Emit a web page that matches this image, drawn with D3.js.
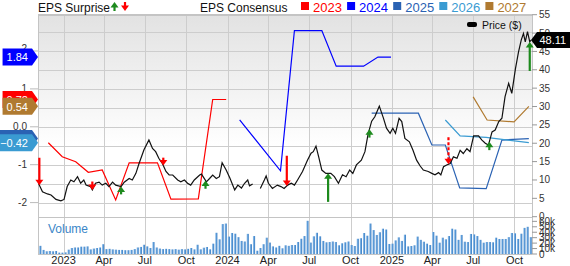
<!DOCTYPE html>
<html>
<head>
<meta charset="utf-8">
<script src="https://cdn.jsdelivr.net/npm/d3@7"></script>
<style>
  body { margin: 0; background: #fff; }
  svg text { font-family: "Liberation Sans", Arial, sans-serif; }
</style>
</head>
<body>
<div id="chart"></div>
<script>
// price ($)
const priceDates = ["2022-11-06","2022-11-15","2022-11-26","2022-12-04","2022-12-15","2022-12-26","2023-01-02","2023-01-09","2023-01-17","2023-01-24",
  "2023-02-01","2023-02-08","2023-02-15","2023-02-20","2023-03-02","2023-03-06","2023-03-13","2023-03-21","2023-03-28","2023-04-05",
  "2023-04-12","2023-04-20","2023-04-27","2023-05-09","2023-05-16","2023-05-27","2023-06-03","2023-06-11","2023-06-18","2023-06-29",
  "2023-07-10","2023-07-18","2023-07-25","2023-08-01","2023-08-09","2023-08-17","2023-08-24","2023-09-01","2023-09-12","2023-09-19",
  "2023-09-27","2023-10-04","2023-10-11","2023-10-19","2023-10-31","2023-11-04","2023-11-15","2023-11-22","2023-11-29","2023-12-07",
  "2023-12-14","2023-12-20","2023-12-29","2024-01-06","2024-01-17","2024-01-24","2024-02-01","2024-02-08","2024-02-15","2024-02-19",
  "2024-02-26","2024-03-05","2024-03-14","2024-03-23","2024-03-27","2024-04-01","2024-04-10","2024-04-21","2024-04-29","2024-05-06",
  "2024-05-14","2024-05-22","2024-05-29","2024-06-05","2024-06-16","2024-06-27","2024-07-05","2024-07-10","2024-07-16","2024-07-22",
  "2024-07-29","2024-08-07","2024-08-18","2024-08-26","2024-09-04","2024-09-13","2024-09-21","2024-09-29","2024-10-06","2024-10-14",
  "2024-10-25","2024-11-02","2024-11-09","2024-11-17","2024-11-24","2024-12-04","2024-12-13","2024-12-20","2024-12-28","2025-01-03",
  "2025-01-09","2025-01-17","2025-01-23","2025-01-30","2025-02-09","2025-02-17","2025-02-25","2025-03-05","2025-03-12","2025-03-23",
  "2025-03-31","2025-04-07","2025-04-15","2025-04-20","2025-04-26","2025-05-03","2025-05-11","2025-05-18","2025-05-26","2025-06-02",
  "2025-06-09","2025-06-17","2025-06-24","2025-07-02","2025-07-13","2025-07-20","2025-07-28","2025-08-04","2025-08-12","2025-08-19",
  "2025-08-27","2025-09-03","2025-09-10","2025-09-18","2025-09-25","2025-10-03","2025-10-10","2025-10-16","2025-10-21","2025-10-25",
  "2025-10-30","2025-11-04","2025-11-07"];
const priceValues = [9.1,6.8,6.2,5.9,4.7,4.3,4.7,8.2,10.0,9.5,
  10.9,9.1,10.0,8.6,8.2,7.3,9.1,9.4,8.6,9.1,
  8.2,9.4,8.6,8.2,9.4,10.4,10.0,11.8,14.5,18.2,
  20.9,18.6,17.7,15.9,14.5,12.3,11.35,11.35,10.0,9.5,
  10.0,9.1,8.6,10.0,11.35,11.6,9.5,10.4,11.35,10.4,
  10.9,14.7,12.7,10.6,7.3,8.6,7.8,9.1,10.0,8.4,
  8.9,null,7.7,10.0,11.1,9.1,7.7,8.6,8.2,7.7,
  8.6,9.1,8.6,10.0,12.3,15.4,17.3,17.7,19.2,16.3,
  12.7,11.8,11.8,10.9,9.1,11.4,10.9,12.7,11.8,14.1,
  15.4,17.7,22.5,26.0,27.2,30.1,26.9,24.1,22.7,24.1,
  22.7,26.8,25.9,21.3,20.4,18.1,15.4,13.8,12.7,12.3,
  11.8,11.4,12.0,11.4,13.6,14.1,14.5,16.3,15.9,18.1,
  17.2,18.5,17.7,22.0,22.0,20.9,20.0,19.5,23.1,23.6,
  25.9,26.8,32.7,36.3,33.6,40.2,44.9,48.1,49.9,47.6,
  50.4,47.6,48.11];

// weekly volume (thousands of shares), first week below
const volumeStart = "2022-11-10";
const volumeK = [15,7.5,5,5.5,5,5.5,2.5,2.5,3,8, 11,12,12,13.5,13.5,14,8.5,10,11,12,
  18,9,9.5,8.5,8,7.5,7.5,7,7,7.5, 9,12,13,17,14,11,22,12,10,9,
  9.5,9,8.5,9,8,9,8.5,9.5,11,8.5, 17,
  8.6,11.6,12.9,8.6,19,39,27,55,56,32, 38.6,37.3,31,24,23,37,18,33,6,11,
  18,30,21,14,12,15,10.5,16,15,16.5, 16.5,22,28,33,61,21,32.5,39,32.5,24,
  21.5,22,23,22,16,19.7,21.5,23,16.5,14.7, 28,29,38.6,33.6,
  56,44,35,40,46.5,45,18.4,19,25,30.6, 24,35.5,14,14.7,16,32,26,22.6,19,16.5,
  40.4,33.7,20.8,30,27,33,46.5,45,26,35, 22.6,22,36.8,36,33,26,20.8,22,22,21.5,
  30,27.6,27.6,27.6,31,38.6,38,27.6,37.3,48, 50,31];

// EPS consensus by fiscal year: [date, EPS]
const cons2023 = [["2022-11-28",-0.42],["2022-12-29",-0.79],["2023-01-28",-0.92],["2023-02-25",-1.2],["2023-03-28",-1.14],
  ["2023-04-27",-1.93],["2023-05-27",-0.95],["2023-07-29",-0.95],["2023-08-28",-1.91],["2023-10-28",-1.9],
  ["2023-11-29",0.72],["2023-12-29",0.72]];
const cons2024 = [["2024-01-28",0.18],["2024-04-28",-1.16],["2024-05-29",2.54],["2024-07-29",2.54],["2024-08-30",1.6],
  ["2024-10-30",1.6],["2024-12-01",1.84],["2024-12-30",1.84]];
const cons2025 = [["2024-11-17",0.36],["2025-03-01",0.36],["2025-03-31",-0.48],["2025-04-30",-0.48],["2025-06-01",-1.61],
  ["2025-07-30",-1.63],["2025-09-03",-0.35],["2025-11-02",-0.31]];
const cons2026 = [["2025-04-30",0.18],["2025-06-02",-0.24],["2025-07-30",-0.28],["2025-11-02",-0.42]];
const cons2027 = [["2025-07-01",0.79],["2025-08-01",0.18],["2025-09-30",0.13],["2025-11-02",0.54]];
const consYears = ["2023","2024","2025","2026","2027"];

// EPS surprise (%) by report date
const surpriseDates = ["2022-11-08","2023-03-06","2023-05-09","2023-08-11","2023-11-13","2024-05-12",
  "2024-08-12","2024-11-12","2025-05-07","2025-08-06","2025-11-04"];
const surprisePct = [-40,-6,5,-5,6,-45,42,6,-40,6,43];

const priceTicks = [0,5,10,15,20,25,30,35,40,45,50,55];
const volumeTicks = [0,10000,20000,30000,40000,50000,60000];
const epsTicks = [-2,-1,0,1,2];
const quarterDates = ["2023-01-01","2023-04-01","2023-07-01","2023-10-01","2024-01-01","2024-04-01",
  "2024-07-01","2024-10-01","2025-01-01","2025-04-01","2025-07-01","2025-10-01"];
const quarterLabels = ["2023","Apr","Jul","Oct","2024","Apr","Jul","Oct","2025","Apr","Jul","Oct"];

// set up
const width = 570, height = 266;
const box = {left: 38, right: 532, top: 15, mid: 217, bottom: 254};
const parseDate = d3.timeParse("%Y-%m-%d");
const yearColor = {"2023": "#ff0000", "2024": "#0000ff", "2025": "#2a62b3", "2026": "#3a9bd2", "2027": "#b07a30"};
const upColor = "#1d8a1d", downColor = "#ff0000";

const svg = d3.select("#chart").append("svg")
    .attr("width", width)
    .attr("height", height);

const defs = svg.append("defs");
const bg = defs.append("linearGradient").attr("id", "bg").attr("x1", 0).attr("x2", 0).attr("y1", 0).attr("y2", 1);
bg.append("stop").attr("offset", "0%").attr("stop-color", "#e2e2e2");
bg.append("stop").attr("offset", "65%").attr("stop-color", "#ffffff");
const vb = defs.append("linearGradient").attr("id", "vbar").attr("x1", 0).attr("x2", 1).attr("y1", 0).attr("y2", 0);
vb.append("stop").attr("offset", "0%").attr("stop-color", "#a9cdee");
vb.append("stop").attr("offset", "50%").attr("stop-color", "#5b9bd8");
vb.append("stop").attr("offset", "100%").attr("stop-color", "#3a7cc2");

// scales
const x = d3.scaleTime()
    .domain([parseDate("2022-11-05"), parseDate("2025-11-09")])
    .range([box.left, box.right]);
const yEps = d3.scaleLinear().domain([-2.38, 2.95]).range([box.mid, box.top]);
const yPrice = d3.scaleLinear().domain([0, 55]).range([216.7, 14.7]);
const yVol = d3.scaleLinear().domain([0, 68000]).range([box.bottom, box.mid]);

// panels
svg.append("rect").attr("x", box.left).attr("y", box.top)
    .attr("width", box.right - box.left).attr("height", box.mid - box.top).attr("fill", "url(#bg)");

const grid = svg.append("g").attr("stroke", "#cdcdcd").attr("stroke-width", 1);
grid.selectAll(".hg").data(d3.range(-2, 3, 0.5)).enter().append("line")
    .attr("x1", box.left).attr("x2", box.right)
    .attr("y1", d => Math.round(yEps(d)) + 0.5).attr("y2", d => Math.round(yEps(d)) + 0.5);
grid.selectAll(".vg").data(quarterDates).enter().append("line")
    .attr("x1", d => Math.round(x(parseDate(d))) + 0.5).attr("x2", d => Math.round(x(parseDate(d))) + 0.5)
    .attr("y1", box.top).attr("y2", box.bottom);

const frame = svg.append("g").attr("stroke", "#c4c4c4").attr("fill", "none");
frame.append("line").attr("x1", box.left).attr("x2", box.right).attr("y1", box.top).attr("y2", box.top).attr("stroke-width", 2);
frame.append("line").attr("x1", box.left + 0.5).attr("x2", box.left + 0.5).attr("y1", box.top).attr("y2", box.bottom);
frame.append("line").attr("x1", box.right + 0.5).attr("x2", box.right + 0.5).attr("y1", box.top).attr("y2", box.bottom);
frame.append("line").attr("x1", box.left).attr("x2", box.right).attr("y1", box.mid + 0.5).attr("y2", box.mid + 0.5);
frame.append("line").attr("x1", box.left).attr("x2", box.right).attr("y1", box.bottom + 0.5).attr("y2", box.bottom + 0.5);

// volume bars
const volStart = parseDate(volumeStart);
svg.append("g").selectAll("rect")
    .data(volumeK)
    .enter()
    .append("rect")
    .attr("x", (d, i) => x(d3.timeDay.offset(volStart, 7 * i)) - 1.1)
    .attr("y", d => yVol(d * 1000))
    .attr("width", 2.2)
    .attr("height", d => box.bottom - yVol(d * 1000))
    .attr("fill", "url(#vbar)");

svg.append("text").attr("x", 48).attr("y", 233)
    .attr("font-size", 12).attr("fill", "#3a86c8").text("Volume");

// consensus lines
const consData = [cons2023, cons2024, cons2025, cons2026, cons2027];
const consLine = d3.line().x(d => x(parseDate(d[0]))).y(d => yEps(d[1]));
consData.forEach((c, i) => {
    svg.append("path").datum(c)
        .attr("d", consLine)
        .attr("fill", "none")
        .attr("stroke", yearColor[consYears[i]])
        .attr("stroke-width", 1.2);
});

// price line
const priceSeries = priceDates.map((d, i) => ({date: parseDate(d), value: priceValues[i]}));
const priceLine = d3.line()
    .defined(d => d.value != null)
    .x(d => x(d.date))
    .y(d => yPrice(d.value));
svg.append("path").datum(priceSeries)
    .attr("d", priceLine)
    .attr("fill", "none")
    .attr("stroke", "#111")
    .attr("stroke-width", 1.2);

const known = priceSeries.filter(d => d.value != null);
const bisect = d3.bisector(d => d.date).left;
function priceAt(date) {
    const i = bisect(known, date);
    if (i <= 0) return known[0].value;
    if (i >= known.length) return known[known.length - 1].value;
    const a = known[i - 1], b = known[i];
    return a.value + (date - a.date) / (b.date - a.date) * (b.value - a.value);
}

// surprise arrows
function drawArrow(g, ax, yTip, len, up, color, dashed) {
    const dir = up ? 1 : -1;
    g.append("line").attr("x1", ax).attr("x2", ax)
        .attr("y1", yTip + dir * 4).attr("y2", yTip + dir * len)
        .attr("stroke", color).attr("stroke-width", 2.2)
        .attr("stroke-dasharray", dashed ? "3,2" : null);
    g.append("path")
        .attr("d", `M${ax},${yTip}L${ax - 4},${yTip + dir * 5.5}L${ax + 4},${yTip + dir * 5.5}Z`)
        .attr("fill", color);
}
const arrowLen = d3.scaleLinear().domain([0, 50]).range([5, 33]).clamp(true);
const dashedSurprise = "2025-05-07";
const arrows = svg.append("g");
surpriseDates.forEach((d, i) => {
    const dt = parseDate(d);
    const s = surprisePct[i];
    drawArrow(arrows, x(dt), yPrice(priceAt(dt)), arrowLen(Math.abs(s)), s > 0,
        s > 0 ? upColor : downColor, d === dashedSurprise);
});

// right price axis
const rightAxis = svg.append("g").attr("font-size", 10).attr("fill", "#333");
priceTicks.forEach(p => {
    rightAxis.append("line").attr("x1", box.right).attr("x2", box.right + 5)
        .attr("y1", yPrice(p)).attr("y2", yPrice(p)).attr("stroke", "#999");
    rightAxis.append("text").attr("x", box.right + 7).attr("y", yPrice(p))
        .attr("dy", "0.35em").text(p);
});
volumeTicks.forEach(v => {
    rightAxis.append("line").attr("x1", box.right).attr("x2", box.right + 5)
        .attr("y1", yVol(v)).attr("y2", yVol(v)).attr("stroke", "#999");
    rightAxis.append("text").attr("x", box.right + 7).attr("y", yVol(v))
        .attr("dy", "0.35em").text(v === 0 ? "0" : (v / 1000) + "k");
});

// left eps axis
const leftAxis = svg.append("g").attr("font-size", 10).attr("fill", "#333");
epsTicks.forEach(e => {
    leftAxis.append("line").attr("x1", 30).attr("x2", box.left)
        .attr("y1", yEps(e)).attr("y2", yEps(e)).attr("stroke", "#bbb");
    leftAxis.append("text").attr("x", 27).attr("y", yEps(e) - (e === 2 ? 3 : 0))
        .attr("dy", "0.35em").attr("text-anchor", "end").text(e === 0 ? "0.0" : String(e));
});

// x axis labels
svg.append("g").selectAll("text")
    .data(quarterDates)
    .enter()
    .append("text")
    .attr("x", d => x(parseDate(d)))
    .attr("y", 264)
    .attr("text-anchor", "middle")
    .attr("font-size", 11)
    .attr("fill", "#222")
    .text((d, i) => quarterLabels[i]);

// consensus end labels on the left
consData.forEach((c, i) => {
    const v = c[c.length - 1][1];
    const yy = yEps(v);
    const g = svg.append("g");
    const poly = g.append("path").attr("fill", yearColor[consYears[i]]);
    const t = g.append("text").attr("x", 0).attr("y", yy).attr("dy", "0.4em")
        .attr("font-size", 11).attr("fill", "#fff").attr("text-anchor", "middle")
        .text(d3.format(".2f")(v));
    const tw = t.node().getComputedTextLength();
    const r = 32, l = r - tw - 8;
    poly.attr("d", `M${l},${yy - 8.5}L${r},${yy - 8.5}L${box.left},${yy}L${r},${yy + 8.5}L${l},${yy + 8.5}Z`);
    t.attr("x", (l + r) / 2);
});

// last price label
const last = known[known.length - 1];
const ly = yPrice(last.value);
svg.append("path")
    .attr("d", `M${box.right - 1},${ly}L${box.right + 5},${ly - 8}L${width},${ly - 8}L${width},${ly + 8}L${box.right + 5},${ly + 8}Z`)
    .attr("fill", "#000");
svg.append("text").attr("x", box.right + 7.5).attr("y", ly).attr("dy", "0.36em")
    .attr("font-size", 11).attr("fill", "#fff").text(d3.format(".2f")(last.value));

// price legend
svg.append("rect").attr("x", 467).attr("y", 22).attr("width", 10).attr("height", 5).attr("rx", 2).attr("fill", "#000");
svg.append("text").attr("x", 482).attr("y", 29).attr("font-size", 10.5).attr("fill", "#111").text("Price ($)");

// header legends
const head = svg.append("g").attr("font-size", 12);
head.append("text").attr("x", 38).attr("y", 11.5).attr("fill", "#111").text("EPS Surprise");
drawArrow(head, 114.5, 2, 9, true, upColor, false);
drawArrow(head, 125, 11, 9, false, downColor, false);
head.append("text").attr("x", 200).attr("y", 11.5).attr("fill", "#111").text("EPS Consensus");
consYears.forEach((yr, i) => {
    const lx = 301 + i * 46.1;
    head.append("rect").attr("x", lx).attr("y", 2).attr("width", 8).attr("height", 8).attr("fill", yearColor[yr]);
    head.append("text").attr("x", lx + 12).attr("y", 11.5).attr("font-size", 13)
        .attr("fill", yearColor[yr]).text(yr);
});
</script>
</body>
</html>
